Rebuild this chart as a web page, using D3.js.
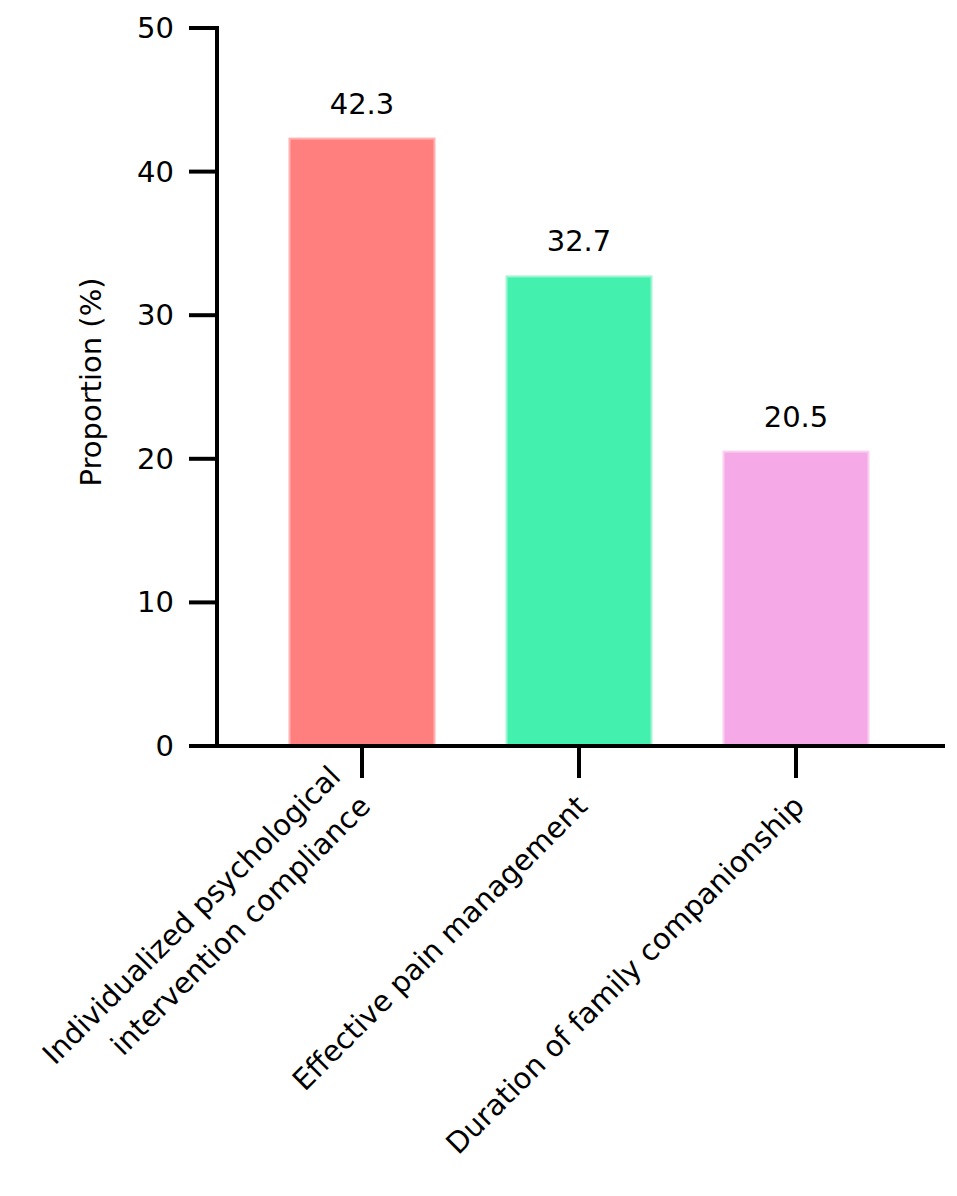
<!DOCTYPE html>
<html><head><meta charset="utf-8">
<script src="https://cdn.jsdelivr.net/npm/d3@7"></script>
<style>body{margin:0;background:#fff}text{font-family:"DejaVu Sans",Verdana,sans-serif;fill:#000}</style>
</head><body><svg id="c" width="957" height="1196"></svg>
<script>
const categories = [["Individualized psychological","intervention compliance"],["Effective pain management"],["Duration of family companionship"]];
const values = [42.3, 32.7, 20.5];
const colors = ["#FF7F7F","#44F0AE","#F5A9E6"];
const strokes = ["#FFB0B0","#9FF5D2","#FAD0F1"];
const yTicks = [0,10,20,30,40,50];

const svg = d3.select("#c");
const y = d3.scaleLinear().domain([0,50]).range([746,28]);
const x = d3.scaleBand().domain([0,1,2]).range([253.5,904.5]).paddingInner(0.332).paddingOuter(0.166);

svg.selectAll("rect.bar").data(values).join("rect")
  .attr("x",(d,i)=>x(i)).attr("width",x.bandwidth())
  .attr("y",d=>y(d)).attr("height",d=>y(0)-y(d))
  .attr("fill",(d,i)=>colors[i]).attr("stroke",(d,i)=>strokes[i]).attr("stroke-width",2);

svg.selectAll("text.val").data(values).join("text")
  .attr("x",(d,i)=>x(i)+x.bandwidth()/2).attr("y",d=>y(d)-25)
  .attr("text-anchor","middle").attr("font-size",29).text(d=>d.toFixed(1));

svg.append("line").attr("x1",217).attr("x2",217).attr("y1",26).attr("y2",748).attr("stroke","#000").attr("stroke-width",4);
svg.selectAll("line.yt").data(yTicks).join("line")
  .attr("x1",189).attr("x2",217).attr("y1",d=>y(d)).attr("y2",d=>y(d)).attr("stroke","#000").attr("stroke-width",4);
svg.selectAll("text.yl").data(yTicks).join("text")
  .attr("x",174).attr("y",d=>y(d)+10).attr("text-anchor","end").attr("font-size",29).text(d=>d);
svg.append("line").attr("x1",189).attr("x2",945).attr("y1",746).attr("y2",746).attr("stroke","#000").attr("stroke-width",4);
svg.selectAll("line.xt").data(values).join("line")
  .attr("x1",(d,i)=>x(i)+x.bandwidth()/2).attr("x2",(d,i)=>x(i)+x.bandwidth()/2)
  .attr("y1",748).attr("y2",778).attr("stroke","#000").attr("stroke-width",4);

svg.append("text").attr("transform","translate(101,382) rotate(-90)").attr("text-anchor","middle").attr("font-size",29).text("Proportion (%)");

categories.forEach((lines,i)=>{
  const cx = x(i)+x.bandwidth()/2;
  const t = svg.append("text").attr("transform",`translate(${cx+10},${808}) rotate(-45)`).attr("text-anchor","end").attr("font-size",29);
  lines.forEach((l,j)=>{
    t.append("tspan").attr("x",0).attr("dy", j===0 ? (-(lines.length-1)*42)+"px" : "42px").text(l);
  });
});
</script></body></html>
